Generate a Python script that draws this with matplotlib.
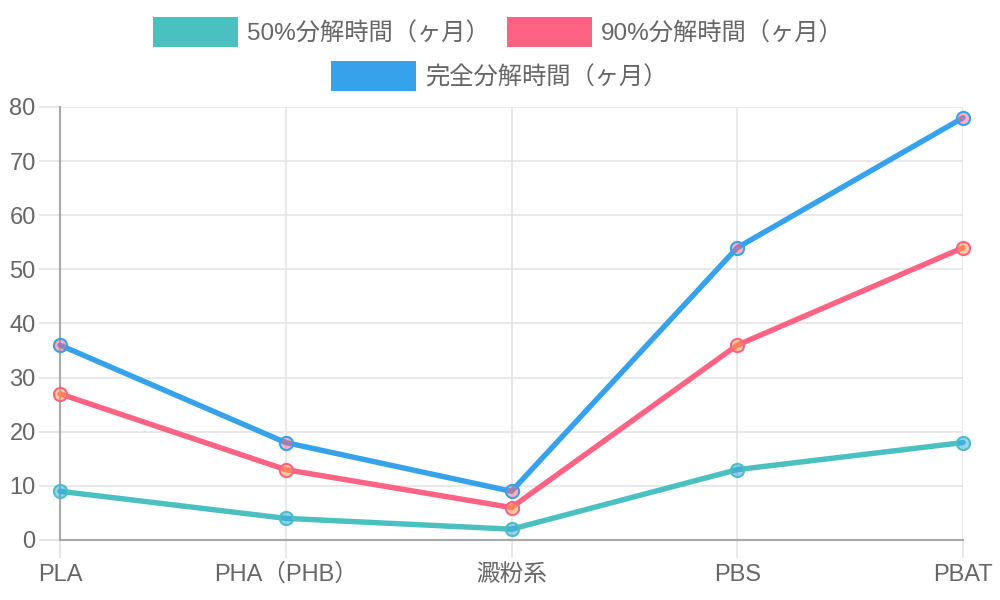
import matplotlib
matplotlib.use("Agg")
import matplotlib.pyplot as plt
from matplotlib.patches import Rectangle

plt.rcParams['font.family'] = ['Liberation Sans', 'Noto Sans CJK JP', 'DejaVu Sans']

categories = ["PLA", "PHA（PHB）", "澱粉系", "PBS", "PBAT"]
series_names = ["50%分解時間（ヶ月）", "90%分解時間（ヶ月）", "完全分解時間（ヶ月）"]
half_time = [9, 4, 2, 13, 18]
ninety_time = [27, 13, 6, 36, 54]
full_time = [36, 18, 9, 54, 78]
y_ticks = [0, 10, 20, 30, 40, 50, 60, 70, 80]

line_colors = ["#4BC0C0", "#FF6384", "#36A2EB"]
point_fills = [(54/255, 162/255, 235/255, 0.5),
               (255/255, 159/255, 64/255, 0.5),
               (255/255, 99/255, 132/255, 0.5)]
values = [half_time, ninety_time, full_time]

text_color = "#666666"
grid_color = "#e5e5e5"
axis_color = "#a9a9a9"

fig = plt.figure(figsize=(10, 6), dpi=100)
ax = fig.add_axes([0.060, 0.100, 0.903, 0.7217])

x = list(range(len(categories)))
for vals, lc, pf in zip(values, line_colors, point_fills):
    ax.plot(x, vals, color=lc, lw=3.9, marker='o', markersize=9.5,
            markerfacecolor=pf, markeredgecolor=lc, markeredgewidth=1.5,
            clip_on=False, zorder=3, solid_capstyle='round', solid_joinstyle='round')

ax.set_xlim(0, len(categories) - 1)
ax.set_ylim(0, 80)
ax.set_xticks(x)
ax.set_xticklabels(categories)
ax.set_yticks(y_ticks)
ax.set_yticklabels([str(v) for v in y_ticks])

ax.grid(True, color=grid_color, lw=1.2, zorder=0)
ax.set_axisbelow(True)
for s in ['top', 'right']:
    ax.spines[s].set_visible(False)
for s in ['left', 'bottom']:
    ax.spines[s].set_color(axis_color)
    ax.spines[s].set_linewidth(1.5)

ax.tick_params(axis='y', length=15, width=1.2, color=grid_color, pad=2.5,
               labelsize=17, labelcolor=text_color)
ax.tick_params(axis='x', length=13, width=1.2, color=grid_color, pad=4,
               labelsize=17, labelcolor=text_color)
# darker ticks where they continue the axis lines
ax.yaxis.get_major_ticks()[0].tick1line.set_color(axis_color)
ax.yaxis.get_major_ticks()[0].tick1line.set_markeredgewidth(1.5)
ax.xaxis.get_major_ticks()[0].tick1line.set_color(axis_color)
ax.xaxis.get_major_ticks()[0].tick1line.set_markeredgewidth(1.5)

# legend (drawn manually, Chart.js style: two centred rows)
W, H = 1000.0, 600.0
legend_items = [
    (153, 17, 247, 34),
    (507, 17, 601, 34),
    (331, 61, 425, 78),
]
for (bx, by, tx, ty), name, lc in zip(legend_items, series_names, line_colors):
    fig.patches.append(Rectangle((bx / W, 1 - (by + 30) / H), 85 / W, 30 / H,
                                 transform=fig.transFigure, facecolor=lc,
                                 edgecolor='none'))
    fig.text(tx / W, 1 - ty / H, name, ha='left', va='center',
             fontsize=17.5, color=text_color)

fig.savefig("out.png", dpi=100)
